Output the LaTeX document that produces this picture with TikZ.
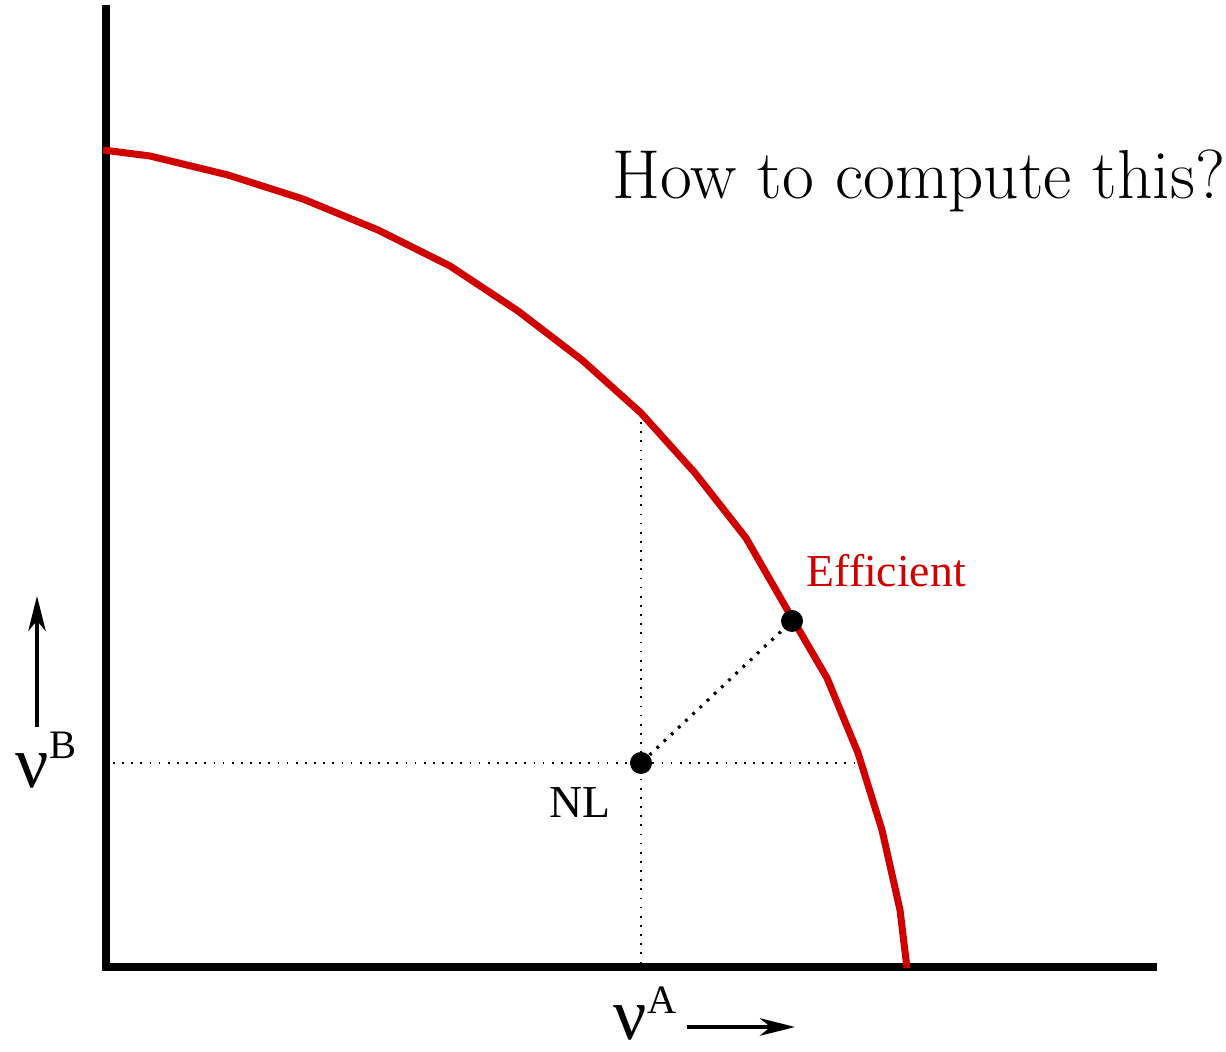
\documentclass[tikz,border=0pt]{standalone}
\usepackage{fontspec}
\usepackage{tikz}
\usetikzlibrary{positioning,arrows.meta}
\newfontfamily\timesfont{Liberation Serif}
\definecolor{effred}{RGB}{208,0,0}

\begin{document}
\begin{tikzpicture}[
    x=0.01cm, y=-0.01cm,
    axis/.style={line width=2pt},
    frontier/.style={line width=2pt, effred, line join=round},
    guide/.style={line width=0.4pt, dash pattern=on 0.5pt off 2.1pt},
    link/.style={line width=0.9pt, dash pattern=on 0.8pt off 2pt},
    dot/.style={circle, fill=black, inner sep=0pt, minimum size=0.22cm},
    label/.style={font=\timesfont\fontsize{13}{13}\selectfont, inner sep=0pt, anchor=base west},
    nulabel/.style={font=\timesfont\fontsize{21}{21}\selectfont, inner sep=0pt, anchor=base west},
    dirarrow/.style={-{Stealth[length=10pt, width=5pt, inset=3pt]}, line width=1pt},
]
\useasboundingbox (0,0) rectangle (1226,1052);
% Axes
\coordinate (origin) at (106,967);
\coordinate (ytop) at (106,5);
\coordinate (xend) at (1157,967);
\draw[axis] (ytop) -- (origin) -- (xend);
% Guide lines through NL
\node[dot] (nl) at (641,763) {};
\coordinate (gleft) at (113,763);
\coordinate (gright) at (858,763);
\coordinate (gtop) at (641,413);
\coordinate (gbot) at (641,967);
\draw[guide] (gleft) -- (gright);
\draw[guide] (gtop) -- (gbot);
% Frontier
\draw[frontier] plot coordinates {(103,150) (150,156) (228,175) (303,199) (378,230) (450,266)
    (518,311) (582,360) (641,413) (695,473) (746,538) (792,618) (827,678) (858,753)
    (882,830) (900,910) (907,968)};
\node[dot] (eff) at (792,621) {};
\draw[link] (nl) -- (eff);
% Labels
\node[label, text=effred] (efflbl) at (806,587) {Efficient};
\node[label] (nllbl) at (549,818) {NL};
\node[anchor=base west, inner sep=0pt, font=\fontsize{19.7}{22}\selectfont] (question) at (612,199) {How to compute this?};
\node[nulabel] (nuA) at (613,1040)
    {ν\raisebox{7.5pt}{\fontsize{11.5}{11.5}\selectfont A}};
\node[nulabel] (nuB) at (15,788)
    {ν\raisebox{8.5pt}{\fontsize{11.5}{11.5}\selectfont B}};
% Direction arrows
\coordinate (aA0) at (687,1027);
\coordinate (aA1) at (795,1027);
\coordinate (aB0) at (37,727);
\coordinate (aB1) at (37,596);
\draw[dirarrow] (aA0) -- (aA1);
\draw[dirarrow] (aB0) -- (aB1);
\end{tikzpicture}
\end{document}
